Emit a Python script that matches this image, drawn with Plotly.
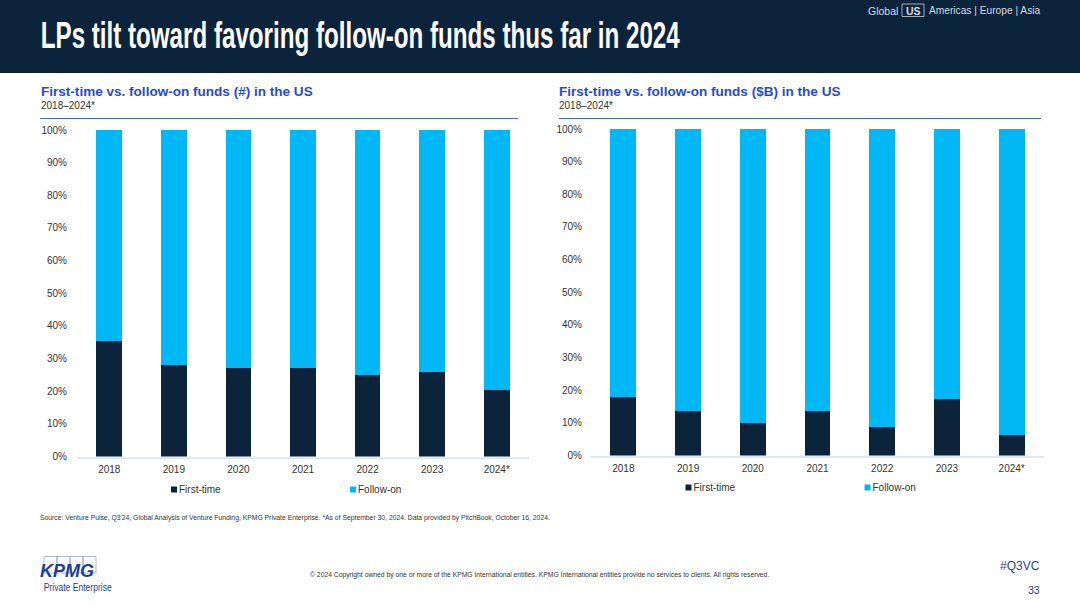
import plotly.graph_objects as go

W, H = 1080, 607

years = ["2018", "2019", "2020", "2021", "2022", "2023", "2024*"]
first_count = [35.5, 28.0, 27.1, 27.1, 25.0, 25.8, 20.3]
follow_count = [64.5, 72.0, 72.9, 72.9, 75.0, 74.2, 79.7]
first_value = [17.8, 13.6, 10.0, 13.6, 8.7, 17.3, 6.3]
follow_value = [82.2, 86.4, 90.0, 86.4, 91.3, 82.7, 93.7]
y_ticks = [0, 10, 20, 30, 40, 50, 60, 70, 80, 90, 100]
y_labels = ["0%", "10%", "20%", "30%", "40%", "50%", "60%", "70%", "80%", "90%", "100%"]

NAVY = "#0c233c"
CYAN = "#00b8f5"
BLUE = "#2649d6"
TEXT = "#333333"
FONT = "Liberation Sans"


def px(x):
    return x / W


def py(y):
    return 1 - y / H


fig = go.Figure()
for xa, ya, first, follow, lg in [
    ("x", "y", first_count, follow_count, "legend"),
    ("x2", "y2", first_value, follow_value, "legend2"),
]:
    fig.add_bar(x=years, y=first, name="First-time", marker_color=NAVY, marker_line_width=0,
                xaxis=xa, yaxis=ya, legend=lg, width=0.4)
    fig.add_bar(x=years, y=follow, name="Follow-on", marker_color=CYAN, marker_line_width=0,
                xaxis=xa, yaxis=ya, legend=lg, width=0.4)


def xaxis(x0, x1, anchor):
    return dict(domain=[px(x0), px(x1)], anchor=anchor, type="category", showgrid=False, zeroline=False,
                showline=True, linecolor="#dfe9f6", linewidth=1.5, ticks="", ticklabelstandoff=3,
                tickfont=dict(family=FONT, size=10, color=TEXT), fixedrange=True)


def yaxis(y_top, y_bot, anchor, standoff):
    return dict(domain=[py(y_bot), py(y_top)], range=[0, 100], anchor=anchor, showgrid=False,
                zeroline=False, showline=False, ticks="", tickmode="array", tickvals=y_ticks, ticktext=y_labels,
                ticklabelstandoff=standoff, tickfont=dict(family=FONT, size=10, color=TEXT),
                fixedrange=True)


def legend(x, y):
    return dict(xref="container", yref="container", x=px(x), y=py(y), xanchor="left", yanchor="middle",
                orientation="h", entrywidth=134, entrywidthmode="pixels", traceorder="normal",
                font=dict(family=FONT, size=10, color=TEXT), bgcolor="rgba(0,0,0,0)",
                itemclick=False, itemdoubleclick=False)


shapes = [
    dict(type="rect", xref="paper", yref="paper", x0=0, x1=1, y0=py(73), y1=1,
         fillcolor=NAVY, line_width=0, layer="below"),
    dict(type="line", xref="paper", yref="paper", x0=px(40), x1=px(518), y0=py(118.5), y1=py(118.5),
         line=dict(color="#4a66cf", width=1.2)),
    dict(type="line", xref="paper", yref="paper", x0=px(559), x1=px(1041), y0=py(118.5), y1=py(118.5),
         line=dict(color="#4a66cf", width=1.2)),
    dict(type="rect", xref="paper", yref="paper", x0=px(902), x1=px(924), y0=py(16.5), y1=py(4),
         line=dict(color="#c8d0d8", width=0.8)),
]
for i in range(4):
    shapes.append(dict(type="rect", xref="paper", yref="paper", x0=px(44 + i * 13), x1=px(57 + i * 13),
                       y0=py(573), y1=py(556.5), line=dict(color="#8f9cc4", width=0.7), layer="below"))


def note(text, x, y, size, color=TEXT, anchor="left", weight=None, **kw):
    font = dict(family=FONT, size=size, color=color)
    if weight:
        font["weight"] = weight
    return dict(text=text, xref="paper", yref="paper", x=px(x), y=py(y), xanchor=anchor, yanchor="middle",
                showarrow=False, font=font, borderpad=0, borderwidth=0, **kw)


annotations = [
    note("LPs tilt toward favoring follow-on funds thus far in 2024", 360.5, 35, 37, "white",
         anchor="center", weight=700),
    note("Global", 868, 10.5, 10.5, "#d5dbe1"),
    note("<b>US</b>", 913, 10.5, 10.5, "#d5dbe1", anchor="center"),
    note("Americas | Europe | Asia", 929, 10.5, 10.2, "#d5dbe1"),
    note("<b>First-time vs. follow-on funds (#) in the US</b>", 41, 91.5, 13.55, BLUE),
    note("2018–2024*", 41, 105.5, 10),
    note("<b>First-time vs. follow-on funds ($B) in the US</b>", 559, 91.5, 13.55, BLUE),
    note("2018–2024*", 559, 105.5, 10),
    note("Source: Venture Pulse, Q3'24, Global Analysis of Venture Funding, KPMG Private Enterprise. "
         "*As of September 30, 2024. Data provided by PitchBook, October 16, 2024.", 40, 518, 6.8),
    note("© 2024 Copyright owned by one or more of the KPMG International entities. KPMG International "
         "entities provide no services to clients. All rights reserved.", 310, 574.5, 6.77),
    note("#Q3VC", 1040, 566, 12, "#1f3f8f", anchor="right"),
    note("33", 1040, 590, 10.5, "#1f3f8f", anchor="right"),
    note("<b><i>KPMG</i></b>", 40, 571, 18, "#1e3f94"),
    note("Private Enterprise", 77, 587, 11, "#1e3f94", anchor="center"),
]

fig.update_layout(
    width=W, height=H, margin=dict(l=0, r=0, t=0, b=0, pad=0, autoexpand=False), autosize=False,
    barmode="stack", plot_bgcolor="white", paper_bgcolor="white", showlegend=True,
    xaxis=xaxis(77, 529, "y"), yaxis=yaxis(130, 456.5, "x", 9),
    xaxis2=xaxis(591, 1044, "y2"), yaxis2=yaxis(129, 455.5, "x2", 8),
    legend=legend(139, 489.5), legend2=legend(653.5, 487.5),
    shapes=shapes, annotations=annotations,
)

# The reference's title font is condensed and no condensed face is installed: narrow the two texts to
# their measured widths. The legend swatches are also drawn smaller and right next to their labels.
POST = """
document.body.style.margin='0';
document.documentElement.style.overflow='hidden';
var widths={'LPs tilt':639,'Private E':68};
document.querySelectorAll('.annotation-text').forEach(function(t){
  Object.keys(widths).forEach(function(k){
    if(t.textContent.indexOf(k)===0){
      t.setAttribute('textLength',widths[k]);
      t.setAttribute('lengthAdjust','spacingAndGlyphs');
    }
  });
});
document.querySelectorAll('.legendpoints').forEach(function(g){
  g.setAttribute('transform','translate(25,0) scale(0.5)');
});
"""
fig.write_html("out.html", config=dict(displayModeBar=False), post_script=POST)
